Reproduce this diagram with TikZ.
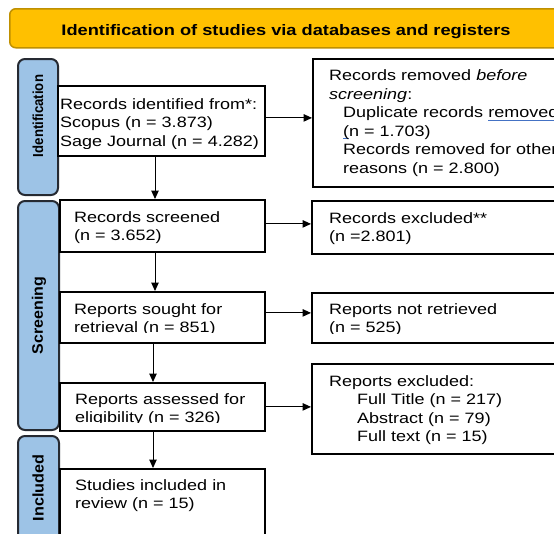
\documentclass[tikz,border=0pt]{standalone}
\usepackage{fontspec}
\setmainfont{Liberation Sans}[FakeStretch=1.2]
\newfontfamily\lblfont{Liberation Sans}
\usetikzlibrary{arrows.meta}
\definecolor{bannerfill}{RGB}{255,192,0}
\definecolor{bannerdraw}{RGB}{191,144,0}
\definecolor{lblfill}{RGB}{157,195,230}
\definecolor{lbldraw}{RGB}{38,42,50}
\definecolor{ulblue}{RGB}{68,114,196}
\newcommand\blueul[1]{\setbox0=\hbox{#1}\rlap{\textcolor{ulblue}{\rule[-3pt]{\wd0}{1pt}}}\box0}
\tikzset{
  boxnode/.style={draw=black, line width=1.8pt, fill=white, inner sep=0pt, anchor=north west},
  lblnode/.style={draw=lbldraw, line width=2pt, fill=lblfill, rounded corners=7pt, inner sep=0pt, anchor=north west},
  lbltext/.style={rotate=90, inner sep=0pt, anchor=center},
  txt/.style={anchor=north west, inner sep=0pt, align=left, font=\fontsize{15}{18.5}\selectfont},
  arr/.style={-{Triangle[length=8.5pt,width=7.5pt]}, line width=1pt}
}
\begin{document}
\begin{tikzpicture}[x=1pt,y=-1pt]
\useasboundingbox (0,0) rectangle (554,533);
\clip (0,0) rectangle (554,533);
\fill[white] (0,0) rectangle (554,533);
% banner
\node[draw=bannerdraw, line width=1.5pt, fill=bannerfill, rounded corners=6pt, anchor=north west, minimum width=575pt, minimum height=39pt, inner sep=0pt] (banner) at (9,8) {};
\node[anchor=base, inner sep=0pt, font=\fontsize{15.2}{18}\selectfont\bfseries] (title) at (286,35) {Identification of studies via databases and registers};
% side labels
\node[lblnode, minimum width=40pt, minimum height=136pt] (lid) at (17,58) {};
\node[lbltext] (lidt) at (38,116) {\scalebox{1}[1.1]{\lblfont\bfseries\fontsize{13.2}{14}\selectfont Identification}};
\node[lblnode, minimum width=41pt, minimum height=229pt] (lsc) at (17,200) {};
\node[lbltext] (lsct) at (39,315.5) {\scalebox{1}[0.95]{\lblfont\bfseries\fontsize{16}{17}\selectfont Screening}};
\node[lblnode, minimum width=41pt, minimum height=130pt] (lin) at (17,435) {};
\node[lbltext] (lint) at (38,488) {\scalebox{1}[0.95]{\lblfont\bfseries\fontsize{16.2}{17}\selectfont Included}};
% boxes
\node[boxnode, minimum width=207pt, minimum height=70pt] (b1) at (57,85) {};
\node[boxnode, minimum width=264pt, minimum height=128pt] (r1) at (312,58) {};
\node[boxnode, minimum width=205pt, minimum height=52pt] (b2) at (59,199) {};
\node[boxnode, minimum width=264pt, minimum height=53pt] (r2) at (311,200) {};
\node[boxnode, minimum width=205pt, minimum height=51pt] (b3) at (59,291) {};
\node[boxnode, minimum width=264pt, minimum height=50pt] (r3) at (311,292) {};
\node[boxnode, minimum width=205pt, minimum height=48pt] (b4) at (59,382) {};
\node[boxnode, minimum width=264pt, minimum height=90pt] (r4) at (311,363) {};
\node[boxnode, minimum width=205pt, minimum height=100pt] (b5) at (59,468) {};
% texts
\begin{scope}
\clip (b1.north west) rectangle ([yshift=8pt]b1.south east);
\node[txt] (t1) at (60,98) {Records identified from*:\\Scopus (n = 3.873)\\Sage Journal (n = 4.282)};
\end{scope}
\node[txt] (tr1) at (329,69.5) {Records removed \textit{before}\\\textit{screening}:\\\hspace*{14pt}Duplicate records \blueul{removed}\\\hspace*{14pt}\blueul{(}n = 1.703)\\\hspace*{14pt}Records removed for other\\\hspace*{14pt}reasons (n = 2.800)};
\node[txt] (t2) at (74,211) {Records screened\\(n = 3.652)};
\node[txt] (tr2) at (329,212) {Records excluded**\\(n =2.801)};
\begin{scope}
\clip (b3.north west) rectangle ([yshift=11pt]b3.south east);
\node[txt] (t3) at (74,303) {Reports sought for\\retrieval (n = 851)};
\end{scope}
\begin{scope}
\clip (r3.north west) rectangle ([yshift=10.5pt]r3.south east);
\node[txt] (tr3) at (329,303) {Reports not retrieved\\(n = 525)};
\end{scope}
\begin{scope}
\clip (b4.north west) rectangle ([yshift=9.5pt]b4.south east);
\node[txt] (t4) at (75,393) {Reports assessed for\\eligibility (n = 326)};
\end{scope}
\node[txt] (tr4) at (329,375) {Reports excluded:\\\hspace*{28pt}Full Title (n = 217)\\\hspace*{28pt}Abstract (n = 79)\\\hspace*{28pt}Full text (n = 15)};
\node[txt] (t5) at (75,479) {Studies included in\\review (n = 15)};
% connectors
\coordinate (c1) at (155,0);
\coordinate (c2) at (153,0);
\draw[arr] ([yshift=3pt]b1.east) -- ([yshift=3pt]b1.east -| r1.west);
\draw[arr] ([yshift=2pt]b2.east) -- ([yshift=2pt]b2.east -| r2.west);
\draw[arr] ([yshift=4.5pt]b3.east) -- ([yshift=4.5pt]b3.east -| r3.west);
\draw[arr] (b4.east) -- (b4.east -| r4.west);
\draw[arr] (b1.south -| c1) -- (b2.north -| c1);
\draw[arr] (b2.south -| c1) -- (b3.north -| c1);
\draw[arr] (b3.south -| c2) -- (b4.north -| c2);
\draw[arr] (b4.south -| c2) -- (b5.north -| c2);
\end{tikzpicture}
\end{document}
